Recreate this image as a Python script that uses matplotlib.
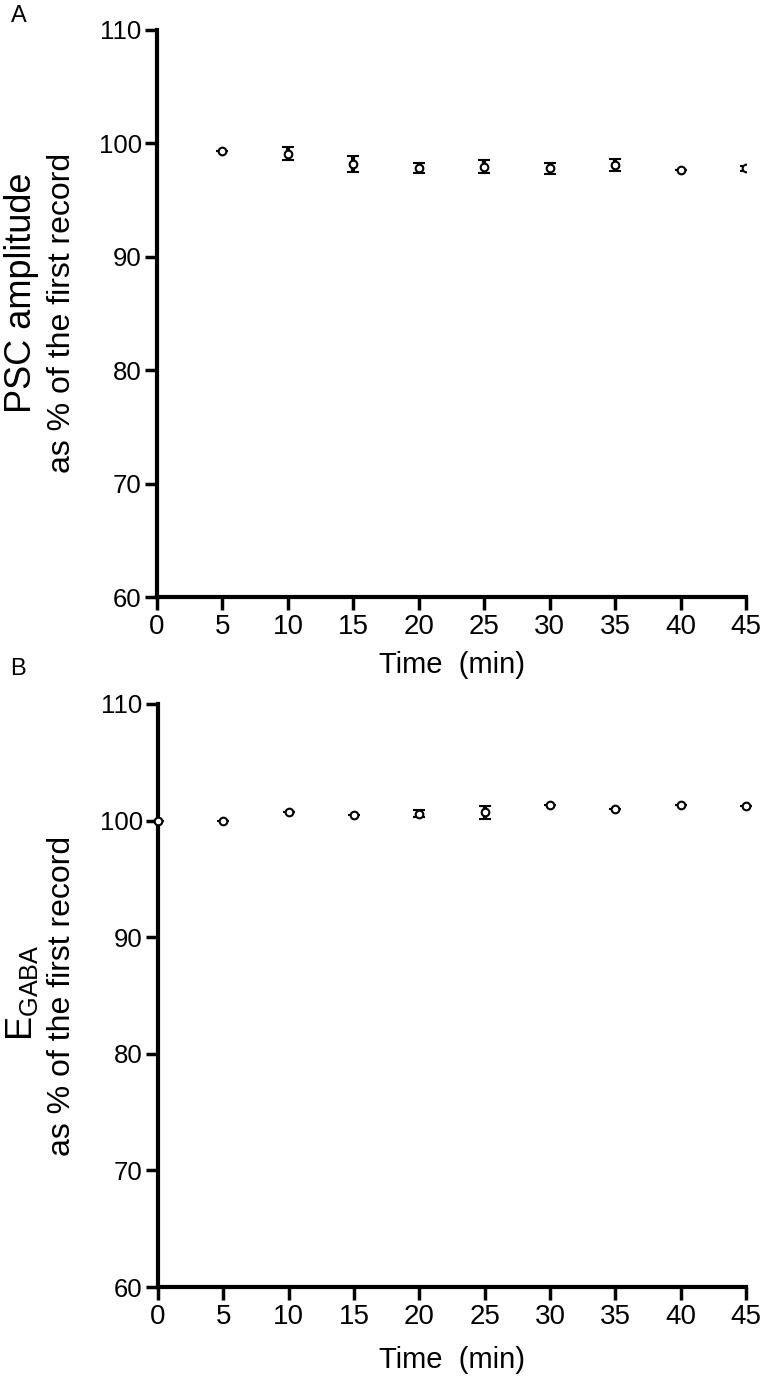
import matplotlib
matplotlib.use('Agg')
import matplotlib.pyplot as plt

plt.rcParams['font.family'] = ['Liberation Sans', 'DejaVu Sans']
plt.rcParams['mathtext.fontset'] = 'custom'
plt.rcParams['mathtext.rm'] = 'Liberation Sans'

# Panel A: PSC amplitude
time_a = [5, 10, 15, 20, 25, 30, 35, 40, 45]
psc_mean = [99.35, 99.1, 98.15, 97.8, 97.95, 97.8, 98.1, 97.65, 97.8]
psc_sem = [0.0, 0.55, 0.7, 0.45, 0.6, 0.5, 0.55, 0.0, 0.2]

# Panel B: E_GABA
time_b = [0, 5, 10, 15, 20, 25, 30, 35, 40, 45]
egaba_mean = [100.0, 100.0, 100.7, 100.5, 100.6, 100.7, 101.35, 101.0, 101.35, 101.25]
egaba_sem = [0.0, 0.0, 0.0, 0.0, 0.3, 0.55, 0.0, 0.0, 0.0, 0.0]

x_ticks = list(range(0, 46, 5))
y_ticks = list(range(60, 111, 10))

W, H = 764, 1382
fig = plt.figure(figsize=(W / 100, H / 100), dpi=100)
ax_a = fig.add_axes([0.2055, 0.568, 0.771, 0.4103])
ax_b = fig.add_axes([0.2068, 0.0687, 0.7696, 0.4219])


def style(ax, pad):
    for s in ['top', 'right']:
        ax.spines[s].set_visible(False)
    for s in ['left', 'bottom']:
        ax.spines[s].set_linewidth(3)
    ax.set_xlim(0, 45)
    ax.set_ylim(60, 110)
    ax.set_xticks(x_ticks)
    ax.set_yticks(y_ticks)
    ax.tick_params(direction='out', length=9, width=2.5)
    ax.tick_params(axis='x', labelsize=20, pad=3)
    ax.tick_params(axis='y', labelsize=18.5, pad=2)
    ax.set_xlabel('Time  (min)', fontsize=21, labelpad=pad)


def ylabel(x, y, text, size):
    fig.text(x / W, 1 - y / H, text, fontsize=size, rotation=90,
             ha='center', va='center')


ax_a.errorbar(time_a, psc_mean, yerr=psc_sem, fmt='o', color='black',
              mfc='white', mec='black', ms=5.5, mew=1.5, elinewidth=3,
              capsize=4, capthick=3.5, zorder=3)
style(ax_a, 8)

ax_b.errorbar(time_b, egaba_mean, yerr=egaba_sem, fmt='o', color='black',
              mfc='white', mec='black', ms=5.5, mew=1.5, elinewidth=3,
              capsize=4, capthick=3.5, zorder=3, clip_on=False)
style(ax_b, 12)

ylabel(22, 293, 'PSC amplitude', 26)
ylabel(62, 313, 'as % of the first record', 23)
ylabel(22, 993, 'E$_{\\rm GABA}$', 26)
ylabel(62, 996, 'as % of the first record', 23)

fig.text(19 / W, 1 - 16 / H, 'A', fontsize=17, ha='center', va='center')
fig.text(18 / W, 1 - 669 / H, 'B', fontsize=17, ha='center', va='center')

fig.savefig('out.png', dpi=100)
